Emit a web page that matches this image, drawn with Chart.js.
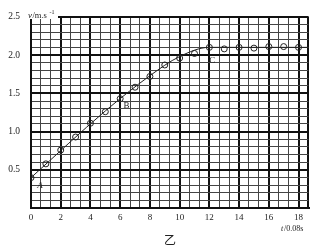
<!DOCTYPE html>
<html>
<head>
<meta charset="utf-8">
<script src="https://cdn.jsdelivr.net/npm/chart.js@4/dist/chart.umd.min.js"></script>
<style>
  html, body { margin: 0; padding: 0; background: #fff; }
  #wrap { width: 328px; height: 246px; }
</style>
</head>
<body>
<div id="wrap"><canvas id="vt-chart"></canvas></div>
<script>
// v-t график, точки через каждые 0.08 с
const tValues = [0, 1, 2, 3, 4, 5, 6, 7, 8, 9, 10, 11, 12, 13, 14, 15, 16, 17, 18];
const vValues = [0.40, 0.58, 0.76, 0.93, 1.11, 1.26, 1.43, 1.58, 1.72, 1.87, 1.96, 2.02, 2.10, 2.08, 2.10, 2.09, 2.11, 2.11, 2.10];
// сглаженная линия, проведённая от руки
const fitT = [0, 5, 8, 10, 12, 18.67];
const fitV = [0.40, 1.27, 1.73, 1.98, 2.10, 2.10];
const xLabels = [0, 2, 4, 6, 8, 10, 12, 14, 16, 18];
const yLabels = [0.5, 1.0, 1.5, 2.0, 2.5];

const ink = '#222';
const serif = "'Liberation Serif', 'DejaVu Serif', serif";

const isMajorX = (v) => Math.abs(v / 2 - Math.round(v / 2)) < 0.01 || v > 18.5;
const isMajorY = (v) => Math.abs(v * 2 - Math.round(v * 2)) < 0.01;

const extraText = {
  id: 'extraText',
  afterDraw(chart) {
    const { ctx, scales: { x, y } } = chart;
    ctx.save();
    ctx.fillStyle = ink;
    // подписи точек A, B, C
    ctx.font = 'italic 9px ' + serif;
    ctx.textAlign = 'center';
    ctx.textBaseline = 'middle';
    ctx.fillText('A', x.getPixelForValue(0.6), y.getPixelForValue(0.29));
    ctx.font = '9px ' + serif;
    ctx.fillText('B', x.getPixelForValue(6.42), y.getPixelForValue(1.345));
    ctx.fillText('C', x.getPixelForValue(12.2), y.getPixelForValue(1.925));
    // заголовок оси v
    ctx.fillStyle = '#fff';
    ctx.fillRect(28, 10, 30, 9);
    ctx.fillStyle = ink;
    ctx.textAlign = 'left';
    ctx.textBaseline = 'alphabetic';
    ctx.font = 'italic 9px ' + serif;
    ctx.fillText('v', 28, 18);
    ctx.font = '8.5px ' + serif;
    ctx.fillText('/m.s', 32.5, 18);
    ctx.font = '6px ' + serif;
    ctx.fillText('-1', 49.5, 14);
    // заголовок оси t
    ctx.font = 'italic 8px ' + serif;
    ctx.fillText('t', 281, 231);
    ctx.font = '8px ' + serif;
    ctx.fillText('/0.08s', 284, 231);
    ctx.font = "12px 'Noto Sans CJK SC'";
    ctx.textAlign = 'center';
    ctx.fillText('乙', 170, 245);
    ctx.restore();
  }
};

let vtCanvas = document.getElementById('vt-chart').getContext('2d');
let vtConfig = {
  type: 'scatter',
  data: {
    datasets: [
      {
        type: 'line',
        data: fitT.map((t, i) => ({ x: t, y: fitV[i] })),
        borderColor: ink,
        borderWidth: 1,
        pointRadius: 0,
        cubicInterpolationMode: 'monotone',
        fill: false
      },
      {
        data: tValues.map((t, i) => ({ x: t, y: vValues[i] })),
        pointRadius: 3,
        pointBorderWidth: 1,
        borderColor: ink,
        backgroundColor: 'rgba(0,0,0,0)'
      }
    ]
  },
  options: {
    responsive: true,
    maintainAspectRatio: false,
    animation: false,
    layout: { padding: { left: 0, top: 15, right: 19.5, bottom: 0 } },
    scales: {
      x: {
        type: 'linear',
        min: 0,
        max: 18.67,
        afterBuildTicks: (scale) => {
          const arr = [];
          for (let k = 0; k <= 28; k++) arr.push({ value: k * 2 / 3 });
          scale.ticks = arr;
        },
        afterFit: (scale) => { scale.height = 37.7; },
        ticks: {
          autoSkip: false,
          maxRotation: 0,
          padding: 4,
          color: ink,
          font: { family: serif, size: 9 },
          callback: (value) => {
            const r = Math.round(value * 100) / 100;
            return xLabels.includes(r) ? String(r) : '';
          }
        },
        grid: {
          drawTicks: false,
          color: (c) => (c.tick && isMajorX(c.tick.value) ? '#111' : '#444'),
          lineWidth: (c) => (c.tick && isMajorX(c.tick.value) ? 2 : 1)
        },
        border: { color: '#111', width: 2 }
      },
      y: {
        min: 0,
        max: 2.5,
        afterBuildTicks: (scale) => {
          const arr = [];
          for (let k = 0; k <= 25; k++) arr.push({ value: k / 10 });
          scale.ticks = arr;
        },
        afterFit: (scale) => { scale.width = 31; },
        ticks: {
          autoSkip: false,
          padding: 11,
          color: ink,
          font: { family: serif, size: 9.5 },
          callback: (value) => {
            const r = Math.round(value * 100) / 100;
            return yLabels.includes(r) ? r.toFixed(1) : '';
          }
        },
        grid: {
          drawTicks: false,
          color: (c) => (c.tick && isMajorY(c.tick.value) ? '#111' : '#444'),
          lineWidth: (c) => (c.tick && isMajorY(c.tick.value) ? 2 : 1)
        },
        border: { color: '#111', width: 2 }
      }
    },
    plugins: {
      legend: { display: false },
      tooltip: { enabled: false }
    }
  },
  plugins: [extraText]
};
let vtChart = new Chart(vtCanvas, vtConfig);
</script>
</body>
</html>
